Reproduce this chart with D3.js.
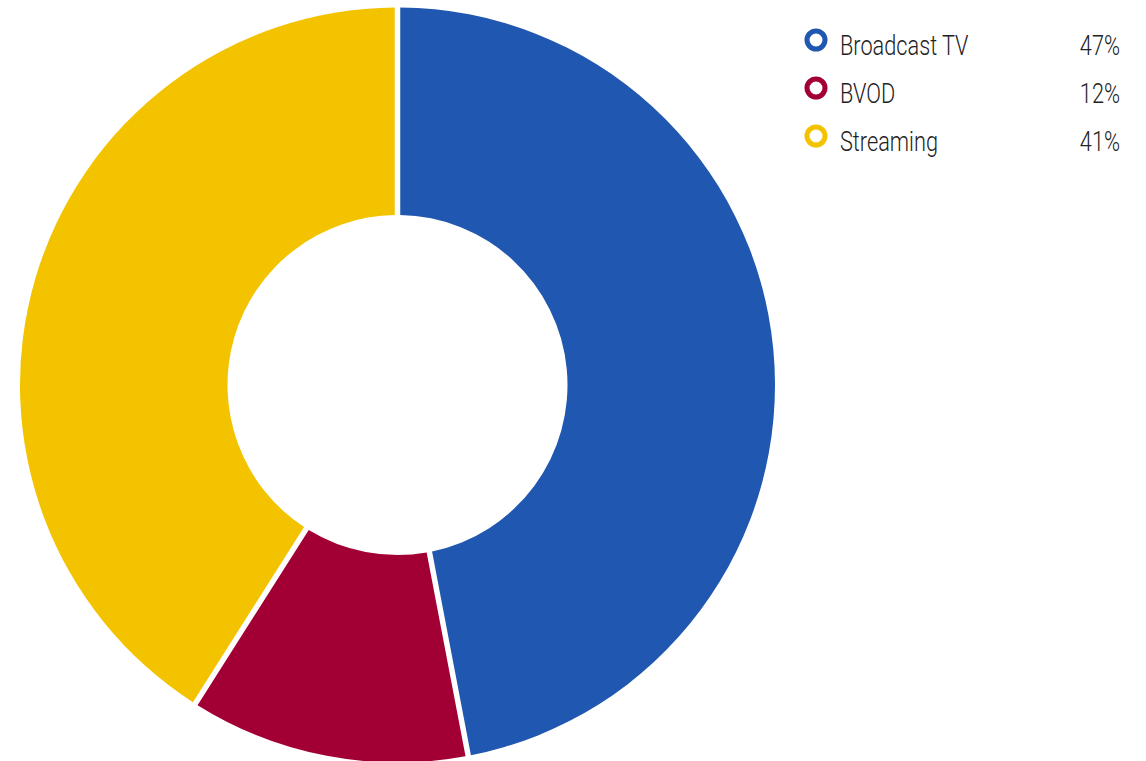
<!DOCTYPE html>
<html>
<head>
<meta charset="utf-8">
<script src="https://cdn.jsdelivr.net/npm/d3@7"></script>
<style>
  body { margin: 0; background: #fff; }
  svg text { font-family: Roboto, "Liberation Sans", sans-serif; }
</style>
</head>
<body>
<div id="chart"></div>
<script>
// Data
const categories = ["Broadcast TV", "BVOD", "Streaming"];
const shares = [47, 12, 41];
const colors = ["#2057B0", "#A20034", "#F4C300"];

const width = 1146, height = 761;
const cx = 397.5, cy = 385;
const outerR = 377.5, innerR = 170;

const svg = d3.select("#chart")
    .append("svg")
    .attr("width", width)
    .attr("height", height);

const rows = categories.map((c, i) => ({ name: c, value: shares[i], color: colors[i] }));

// Pie layout, clockwise from 12 o'clock, in data order
const pie = d3.pie()
    .value(d => d.value)
    .sort(null);

const arc = d3.arc()
    .innerRadius(innerR)
    .outerRadius(outerR)
    .padAngle(5.5 / outerR)
    .padRadius(outerR);

svg.append("g")
    .attr("transform", `translate(${cx}, ${cy})`)
    .selectAll("path")
    .data(pie(rows))
    .enter().append("path")
    .attr("d", arc)
    .attr("fill", d => d.data.color);

// Legend
const legend = svg.append("g")
    .attr("transform", "translate(816, 40)");

let y = d3.scaleBand()
    .domain(categories)
    .range([0, 48 * categories.length])
    .paddingInner(0);

let item = legend.selectAll(".item")
    .data(rows)
    .enter().append("g")
    .attr("class", "item")
    .attr("transform", d => `translate(0, ${y(d.name)})`);

item.append("circle")
    .attr("r", 9)
    .attr("fill", "none")
    .attr("stroke", d => d.color)
    .attr("stroke-width", 5);

// condensed look: squeeze the regular face horizontally
const squeeze = 0.79;

item.append("text")
    .attr("transform", `translate(24, 15) scale(${squeeze}, 1)`)
    .attr("font-size", 27.5)
    .attr("font-weight", 300)
    .attr("fill", "#222")
    .text(d => d.name);

item.append("text")
    .attr("transform", `translate(304, 15) scale(${squeeze}, 1)`)
    .attr("font-size", 27.5)
    .attr("font-weight", 300)
    .attr("fill", "#222")
    .attr("text-anchor", "end")
    .text(d => d.value + "%");
</script>
</body>
</html>
